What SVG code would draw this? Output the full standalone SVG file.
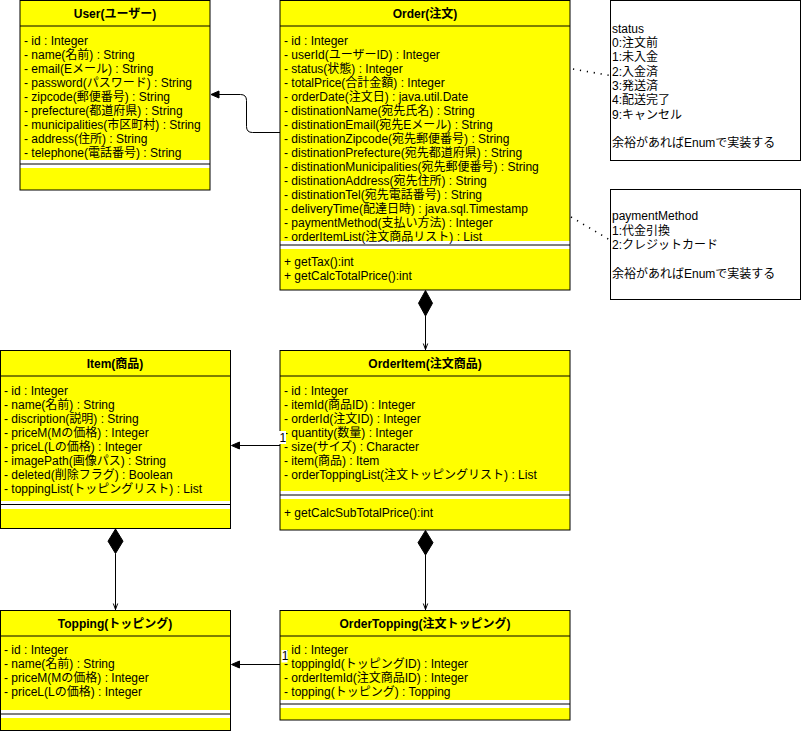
<svg xmlns="http://www.w3.org/2000/svg" width="801" height="731" viewBox="0 0 801 731">
  <style>
    text { font-family: "Liberation Sans", Arial, "Noto Sans CJK JP", sans-serif; font-size: 12px; fill: #000; }
    .title { font-weight: bold; text-anchor: middle; }
    .fill { fill: #FFFF00; stroke: none; }
    .frame { fill: none; stroke: #000; stroke-width: 1; }
    .sep { stroke: #000; stroke-width: 1; }
    .note { fill: #fff; stroke: #000; stroke-width: 1; }
    .edge { fill: none; stroke: #000; stroke-width: 1; }
    .dot { fill: none; stroke: #000; stroke-width: 1.6; stroke-dasharray: 1.2 5.8; }
    .head { fill: #000; stroke: #000; stroke-width: 1; }
    .lbl { fill: #fff; stroke: none; }
  </style>

  <!-- User class -->
  <g id="user">
    <rect class="fill" x="20" y="0.5" width="190" height="159.5"/>
    <rect class="fill" x="20" y="168" width="190" height="22"/>
    <line class="sep" x1="20" y1="26" x2="210" y2="26"/>
    <line class="sep" x1="20" y1="164" x2="210" y2="164"/>
    <rect class="frame" x="20" y="0.5" width="190" height="189.5"/>
    <text class="title" x="115" y="18.3">User(ユーザー)</text>
    <text x="24" y="44.5">- id : Integer</text>
    <text x="24" y="58.5">- name(名前) : String</text>
    <text x="24" y="72.5">- email(Eメール) : String</text>
    <text x="24" y="86.5">- password(パスワード) : String</text>
    <text x="24" y="100.5">- zipcode(郵便番号) : String</text>
    <text x="24" y="114.5">- prefecture(都道府県) : String</text>
    <text x="24" y="128.5">- municipalities(市区町村) : String</text>
    <text x="24" y="142.5">- address(住所) : String</text>
    <text x="24" y="156.5">- telephone(電話番号) : String</text>
  </g>

  <!-- Order class -->
  <g id="order">
    <rect class="fill" x="280" y="0.5" width="290" height="240.5"/>
    <rect class="fill" x="280" y="249" width="290" height="41"/>
    <line class="sep" x1="280" y1="26" x2="570" y2="26"/>
    <line class="sep" x1="280" y1="245" x2="570" y2="245"/>
    <rect class="frame" x="280" y="0.5" width="290" height="289.5"/>
    <text class="title" x="425" y="18.3">Order(注文)</text>
    <text x="284" y="44.5">- id : Integer</text>
    <text x="284" y="58.5">- userId(ユーザーID) : Integer</text>
    <text x="284" y="72.5">- status(状態) : Integer</text>
    <text x="284" y="86.5">- totalPrice(合計金額) : Integer</text>
    <text x="284" y="100.5">- orderDate(注文日) : java.util.Date</text>
    <text x="284" y="114.5">- distinationName(宛先氏名) : String</text>
    <text x="284" y="128.5">- distinationEmail(宛先Eメール) : String</text>
    <text x="284" y="142.5">- distinationZipcode(宛先郵便番号) : String</text>
    <text x="284" y="156.5">- distinationPrefecture(宛先都道府県) : String</text>
    <text x="284" y="170.5">- distinationMunicipalities(宛先郵便番号) : String</text>
    <text x="284" y="184.5">- distinationAddress(宛先住所) : String</text>
    <text x="284" y="198.5">- distinationTel(宛先電話番号) : String</text>
    <text x="284" y="212.5">- deliveryTime(配達日時) : java.sql.Timestamp</text>
    <text x="284" y="226.5">- paymentMethod(支払い方法) : Integer</text>
    <text x="284" y="240.5">- orderItemList(注文商品リスト) : List</text>
    <text x="284" y="266">+ getTax():int</text>
    <text x="284" y="280.3">+ getCalcTotalPrice():int</text>
  </g>

  <!-- status note -->
  <g id="note-status">
    <rect class="note" x="610.5" y="0.5" width="190" height="160"/>
    <text x="612" y="32.7">status</text>
    <text x="612" y="47">0:注文前</text>
    <text x="612" y="61.3">1:未入金</text>
    <text x="612" y="75.6">2:入金済</text>
    <text x="612" y="89.9">3:発送済</text>
    <text x="612" y="104.2">4:配送完了</text>
    <text x="612" y="118.5">9:キャンセル</text>
    <text x="612" y="147.1">余裕があればEnumで実装する</text>
  </g>

  <!-- paymentMethod note -->
  <g id="note-payment">
    <rect class="note" x="610.5" y="189.5" width="190" height="110"/>
    <text x="612" y="220.3">paymentMethod</text>
    <text x="612" y="234.6">1:代金引換</text>
    <text x="612" y="248.9">2:クレジットカード</text>
    <text x="612" y="277.5">余裕があればEnumで実装する</text>
  </g>

  <!-- Item class -->
  <g id="item">
    <rect class="fill" x="0" y="350.5" width="230" height="150.5"/>
    <rect class="fill" x="0" y="509" width="230" height="19.5"/>
    <line class="sep" x1="0" y1="376" x2="230" y2="376"/>
    <line class="sep" x1="0" y1="504.5" x2="230" y2="504.5"/>
    <rect class="frame" x="0.5" y="350.5" width="230" height="178"/>
    <text class="title" x="115" y="368.3">Item(商品)</text>
    <text x="4" y="394.5">- id : Integer</text>
    <text x="4" y="408.5">- name(名前) : String</text>
    <text x="4" y="422.5">- discription(説明) : String</text>
    <text x="4" y="436.5">- priceM(Mの価格) : Integer</text>
    <text x="4" y="450.5">- priceL(Lの価格) : Integer</text>
    <text x="4" y="464.5">- imagePath(画像パス) : String</text>
    <text x="4" y="478.5">- deleted(削除フラグ) : Boolean</text>
    <text x="4" y="492.5">- toppingList(トッピングリスト) : List</text>
  </g>

  <!-- OrderItem class -->
  <g id="order-item">
    <rect class="fill" x="280" y="350.5" width="290" height="140.5"/>
    <rect class="fill" x="280" y="499" width="290" height="31"/>
    <line class="sep" x1="280" y1="376" x2="570" y2="376"/>
    <line class="sep" x1="280" y1="495" x2="570" y2="495"/>
    <rect class="frame" x="280" y="350.5" width="290" height="179.5"/>
    <text class="title" x="425" y="368.3">OrderItem(注文商品)</text>
    <text x="284" y="394.5">- id : Integer</text>
    <text x="284" y="408.5">- itemId(商品ID) : Integer</text>
    <text x="284" y="422.5">- orderId(注文ID) : Integer</text>
    <text x="284" y="436.5">- quantity(数量) : Integer</text>
    <text x="284" y="450.5">- size(サイズ) : Character</text>
    <text x="284" y="464.5">- item(商品) : Item</text>
    <text x="284" y="478.5">- orderToppingList(注文トッピングリスト) : List</text>
    <text x="284" y="516.5">+ getCalcSubTotalPrice():int</text>
  </g>

  <!-- Topping class -->
  <g id="topping">
    <rect class="fill" x="0" y="610.5" width="230" height="99.5"/>
    <rect class="fill" x="0" y="718" width="230" height="12.5"/>
    <line class="sep" x1="0" y1="636" x2="230" y2="636"/>
    <line class="sep" x1="0" y1="714" x2="230" y2="714"/>
    <rect class="frame" x="0.5" y="610.5" width="230" height="120"/>
    <text class="title" x="115" y="627.6">Topping(トッピング)</text>
    <text x="4" y="653.8">- id : Integer</text>
    <text x="4" y="667.8">- name(名前) : String</text>
    <text x="4" y="681.8">- priceM(Mの価格) : Integer</text>
    <text x="4" y="695.8">- priceL(Lの価格) : Integer</text>
  </g>

  <!-- OrderTopping class -->
  <g id="order-topping">
    <rect class="fill" x="280" y="610.5" width="290" height="89.5"/>
    <rect class="fill" x="280" y="708" width="290" height="12"/>
    <line class="sep" x1="280" y1="636" x2="570" y2="636"/>
    <line class="sep" x1="280" y1="704" x2="570" y2="704"/>
    <rect class="frame" x="280" y="610.5" width="290" height="109.5"/>
    <text class="title" x="425" y="628">OrderTopping(注文トッピング)</text>
    <text x="284" y="653.8">- id : Integer</text>
    <text x="284" y="667.8">- toppingId(トッピングID) : Integer</text>
    <text x="284" y="681.8">- orderItemId(注文商品ID) : Integer</text>
    <text x="284" y="695.8">- topping(トッピング) : Topping</text>
  </g>

  <!-- connectors -->
  <g id="connectors">
    <!-- Order -> User -->
    <path class="edge" d="M280,132.5 L252.5,132.5 Q246.5,132.5 246.5,126.5 L246.5,100.5 Q246.5,94.5 240.5,94.5 L219,94.5"/>
    <polygon class="head" points="211,94.5 219,91 219,98"/>

    <!-- Order to notes -->
    <line class="dot" x1="573" y1="69" x2="610" y2="75.5"/>
    <line class="dot" x1="571" y1="217" x2="610" y2="240"/>

    <!-- Order <>-> OrderItem -->
    <polygon class="head" points="425.5,290.5 432.5,303.2 425.5,316 418.5,303.2"/>
    <line class="edge" x1="425.5" y1="316" x2="425.5" y2="350"/>
    <polyline class="edge" points="423.3,343.5 425.5,349.5 427.7,343.5"/>

    <!-- Item <>-> Topping -->
    <polygon class="head" points="115.5,529 123,541.2 115.5,553.5 108,541.2"/>
    <line class="edge" x1="115.5" y1="553.5" x2="115.5" y2="610"/>
    <polyline class="edge" points="113.3,603.5 115.5,609.5 117.7,603.5"/>

    <!-- OrderItem <>-> OrderTopping -->
    <polygon class="head" points="425.5,530.5 433,542.7 425.5,555 418,542.7"/>
    <line class="edge" x1="425.5" y1="555" x2="425.5" y2="610"/>
    <polyline class="edge" points="423.3,603.5 425.5,609.5 427.7,603.5"/>

    <!-- OrderItem -> Item -->
    <line class="edge" x1="280" y1="445.5" x2="239" y2="445.5"/>
    <polygon class="head" points="231.5,445.5 239.5,442 239.5,449"/>
    <rect class="lbl" x="279" y="431" width="7" height="13"/>
    <text x="279.5" y="441.5">1</text>

    <!-- OrderTopping -> Topping -->
    <line class="edge" x1="280" y1="664.5" x2="239" y2="664.5"/>
    <polygon class="head" points="231.5,664.5 239.5,661 239.5,668"/>
    <rect class="lbl" x="281.5" y="650" width="6" height="12.5"/>
    <text x="281.8" y="660.3">1</text>
  </g>
</svg>
